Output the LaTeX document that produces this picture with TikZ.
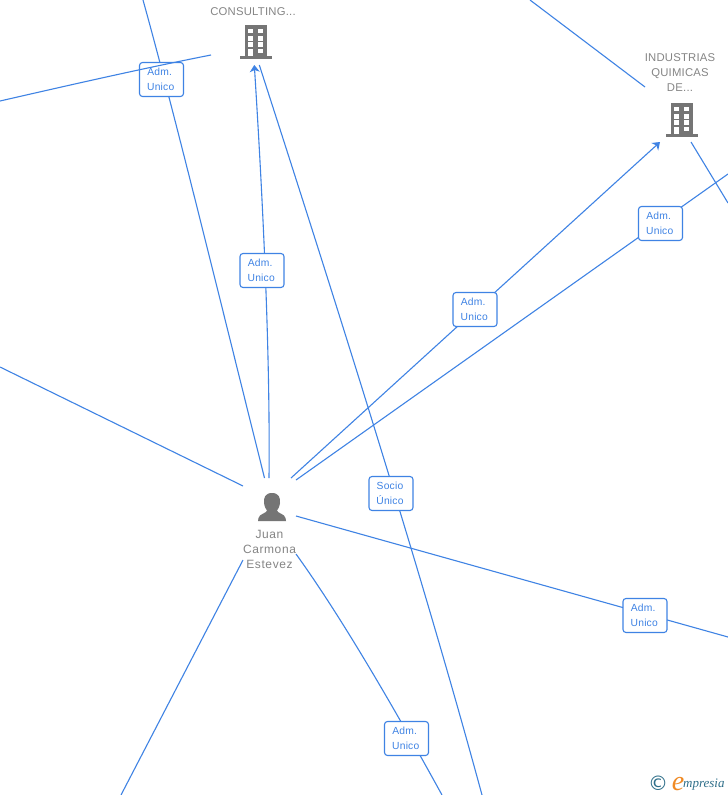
\documentclass[tikz,border=0pt]{standalone}
\usepackage{fontspec}
\setmainfont{Liberation Sans}
\newfontfamily\logofont{DejaVu Sans}
\newfontfamily\brandfont{Liberation Serif}
\usetikzlibrary{arrows.meta}
\definecolor{linkblue}{HTML}{3F83E4}
\definecolor{icongray}{HTML}{757575}
\definecolor{textgray}{HTML}{858585}
\definecolor{logoteal}{HTML}{2F6F8A}
\definecolor{logoorange}{HTML}{F08A24}
\tikzset{
  link/.style={draw=linkblue,line width=1.1pt},
  linktip/.style={link,-{Stealth[length=7pt,width=10pt,inset=2pt]}},
  rolebox/.style={draw=linkblue,fill=white,rounded corners=3pt,line width=1.1pt,minimum width=44pt,minimum height=34pt,inner sep=0pt,align=center,text=linkblue,font=\fontsize{10.3}{15}\selectfont\addfontfeature{LetterSpace=2}},
  caption/.style={text=textgray,align=center,inner sep=0pt,font=\fontsize{11.3}{15}\selectfont\addfontfeature{LetterSpace=2}},
  personcaption/.style={caption,font=\fontsize{12}{15}\selectfont\addfontfeature{LetterSpace=5}}
}
\newcommand{\rolelines}[2]{#1\hspace*{3.5pt}\\#2\hspace*{1.5pt}}
\newcommand{\buildingicon}[2]{%
  \begin{scope}[shift={(#1,#2)}]
    \fill[icongray] (-11,-16) rectangle (11,15.5);
    \fill[icongray] (-16,15) rectangle (16,17.7);
    \foreach \wx in {-7.6,2.4}{\foreach \wy in {-12.2,-4.6,1.3}{\fill[white] (\wx,\wy) rectangle +(4.4,4.6);}}
    \fill[white] (-7.6,8) rectangle (-3.2,15);
    \fill[white] (2.4,8) rectangle (6.8,12.4);
  \end{scope}}
\begin{document}
\begin{tikzpicture}[x=1pt,y=-1pt]
\useasboundingbox (0,0) rectangle (728,795);
\fill[white] (0,0) rectangle (728,795);
% free ends
\coordinate (cTopA) at (143,0);
\coordinate (cPersonA) at (264.5,478);
\coordinate (cLeftB) at (0,101);
\coordinate (cConsA) at (211,55);
\coordinate (cPersonC) at (269,478);
\coordinate (cConsTip) at (254.3,65);
\coordinate (cConsD) at (259.3,65);
\coordinate (cBotD) at (482,795);
\coordinate (cPersonE) at (291,478);
\coordinate (cIndTip) at (660,142);
\coordinate (cPersonF) at (296,480);
\coordinate (cRightF) at (728,174);
\coordinate (cTopG) at (530,0);
\coordinate (cIndG) at (645,87);
\coordinate (cIndH) at (691,142);
\coordinate (cRightH) at (728,203);
\coordinate (cLeftI) at (0,367);
\coordinate (cPersonI) at (243,486);
\coordinate (cPersonJ) at (296,516);
\coordinate (cRightJ) at (728,637);
\coordinate (cPersonK) at (243,560);
\coordinate (cBotK) at (121,795);
\coordinate (cPersonL) at (296,554);
\coordinate (cBotL) at (442,795);
% connectors
\draw[link] (cTopA) .. controls (175,115) and (220,300) .. (cPersonA);
\draw[linktip] (cPersonC) .. controls (270,380) and (266,250) .. (cConsTip);
\draw[link] (cConsD) .. controls (332,290) and (421,570) .. (cBotD);
\draw[linktip] (cPersonE) -- (cIndTip);
\draw[link] (cPersonF) -- (cRightF);
\draw[link] (cTopG) -- (cIndG);
\draw[link] (cIndH) -- (cRightH);
\draw[link] (cLeftI) -- (cPersonI);
\draw[link] (cPersonJ) -- (cRightJ);
\draw[link] (cPersonK) -- (cBotK);
\draw[link] (cPersonL) .. controls (340,615) and (392,704) .. (cBotL);
% role boxes
\node[rolebox] (rA) at (161.5,79.5) {\rolelines{Adm.}{Unico}};
\node[rolebox] (rC) at (262,270.5) {\rolelines{Adm.}{Unico}};
\node[rolebox] (rE) at (475,309.5) {\rolelines{Adm.}{Unico}};
\node[rolebox] (rF) at (660.5,223.5) {\rolelines{Adm.}{Unico}};
\node[rolebox] (rD) at (391,493.5) {Socio\hspace*{2pt}\\Único\hspace*{2pt}};
\node[rolebox] (rJ) at (645,615.5) {\rolelines{Adm.}{Unico}};
\node[rolebox] (rL) at (406.5,738.5) {\rolelines{Adm.}{Unico}};
\draw[link] (cLeftB) .. controls (70,85) and (140,69) .. (cConsA);
% entities
\buildingicon{256}{41}
\buildingicon{682}{119}
\node[caption] (consulting) at (253,11.5) {CONSULTING...};
\node[caption] (industrias) at (680,73) {INDUSTRIAS\\QUIMICAS\\DE...};
\fill[icongray] (272,493) .. controls (265,493) and (263.5,498) .. (264,503) .. controls (264.5,507) and (266,509) .. (267,510.5) .. controls (267,513) and (259,514) .. (258.5,518) -- (258,521) -- (286,521) -- (285.5,518) .. controls (285,514) and (277,513) .. (277,510.5) .. controls (278,509) and (279.5,507) .. (280,503) .. controls (280.5,498) and (279,493) .. (272,493) -- cycle;
\node[personcaption] (juan) at (269.5,549) {Juan\\Carmona\\Estevez};
% logo
\node[text=logoteal,inner sep=0pt,font=\logofont\fontsize{20}{20}\selectfont] (copy) at (658,783) {©};
\node[text=logoorange,inner sep=0pt,font=\brandfont\fontsize{28}{28}\selectfont\itshape] (logoe) at (678,784) {e};
\node[text=logoteal,inner sep=0pt,anchor=west,font=\brandfont\fontsize{13}{13}\selectfont\itshape] (logot) at (683,785) {mpresia};
\end{tikzpicture}
\end{document}
